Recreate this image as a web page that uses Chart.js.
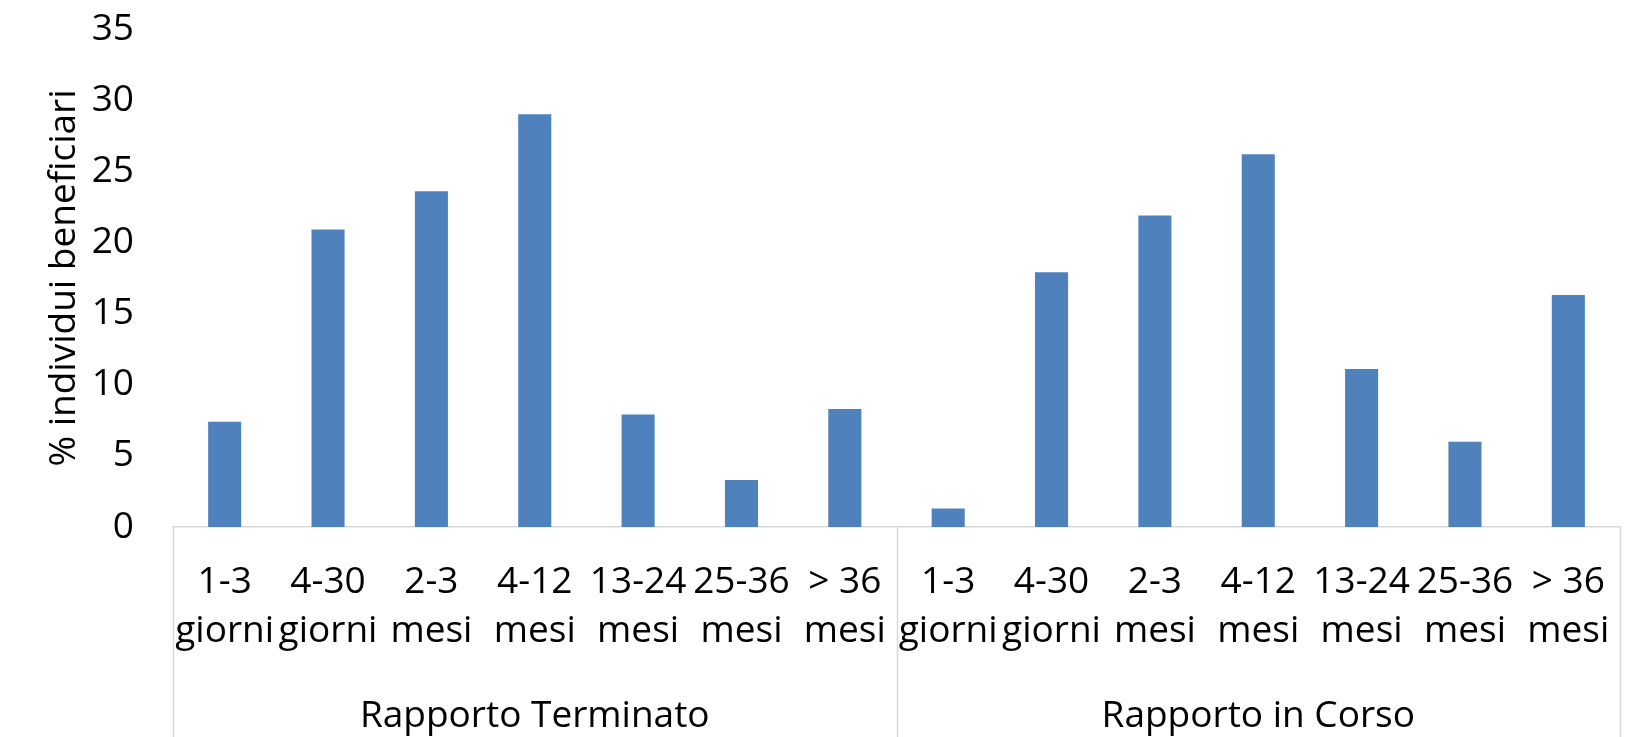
<!DOCTYPE html>
<html lang="it">
<head>
  <meta charset="UTF-8">
  <title>Durata rapporto</title>
  <script src="https://cdn.jsdelivr.net/npm/chart.js"></script>
  <style>
      html, body { margin: 0; padding: 0; background: #ffffff; }
      #wrap { width: 1631px; height: 737px; }
  </style>
</head>
<body>
  <div id="wrap"><canvas id="durataChart"></canvas></div>

  <script>
      // categorie (etichette su due righe)
      var durate = [
        ["1-3", "giorni"], ["4-30", "giorni"], ["2-3", "mesi"], ["4-12", "mesi"],
        ["13-24", "mesi"], ["25-36", "mesi"], ["> 36", "mesi"]
      ];
      var gruppi = ["Rapporto Terminato", "Rapporto in Corso"];

      // % individui beneficiari
      var terminato = [7.4, 20.9, 23.6, 29.0, 7.9, 3.3, 8.3];
      var inCorso   = [1.3, 17.9, 21.9, 26.2, 11.1, 6.0, 16.3];

      var yTicks = [0, 5, 10, 15, 20, 25, 30, 35];

      var labels = [...durate, ...durate];
      var values = [...terminato, ...inCorso];

      var fontFam = "'Open Sans', sans-serif";
      var lineCol = '#d9d9d9';

      // no extra padding from the axis labels, layout.padding decides
      function noPad(s) {
          s.paddingTop = 0; s.paddingBottom = 0;
          s.paddingLeft = 0; s.paddingRight = 0;
      }

      // linee verticali di separazione tra i gruppi
      Chart.register({
          id: 'groupSeparators',
          afterDraw: (chart) => {
              const { ctx, scales: { x } } = chart;
              ctx.save();
              ctx.strokeStyle = lineCol;
              ctx.lineWidth = 1.5;
              [0, durate.length, labels.length].forEach(i => {
                  const px = Math.round(x.getPixelForValue(i - 0.5)) + 0.5;
                  ctx.beginPath();
                  ctx.moveTo(px, chart.chartArea.bottom);
                  ctx.lineTo(px, chart.height);
                  ctx.stroke();
              });
              ctx.restore();
          }
      });

      new Chart(document.getElementById('durataChart'), {
          type: 'bar',
          data: {
              labels: labels,
              datasets: [{
                  data: values,
                  backgroundColor: '#4f81bd',
                  borderWidth: 0,
                  barPercentage: 0.32,
                  categoryPercentage: 1.0
              }]
          },
          options: {
              responsive: true,
              maintainAspectRatio: false,
              animation: false,
              layout: { padding: { top: 29, right: 11, left: 0, bottom: 0 } },
              plugins: { legend: { display: false }, tooltip: { enabled: false } },
              scales: {
                  x: {
                      position: 'bottom',
                      grid: { display: false, drawTicks: false },
                      border: { display: true, color: lineCol, width: 1.5 },
                      ticks: {
                          color: '#000000',
                          font: { family: fontFam, size: 37, lineHeight: 1.32 },
                          padding: 31,
                          autoSkip: false,
                          maxRotation: 0
                      },
                      afterFit: (s) => { s.height = 138; noPad(s); }
                  },
                  x2: {
                      type: 'category',
                      position: 'bottom',
                      labels: gruppi,
                      offset: true,
                      grid: { display: false, drawTicks: false },
                      border: { display: false },
                      ticks: {
                          color: '#000000',
                          font: { family: fontFam, size: 37, lineHeight: 1.32 },
                          padding: 27,
                          maxRotation: 0
                      },
                      afterFit: (s) => { s.height = 72; noPad(s); }
                  },
                  y: {
                      min: 0,
                      max: 35,
                      afterBuildTicks: (s) => { s.ticks = yTicks.map(v => ({ value: v })); },
                      grid: { display: false, drawTicks: false },
                      border: { display: false },
                      ticks: {
                          color: '#000000',
                          font: { family: fontFam, size: 37 },
                          padding: 39
                      },
                      title: {
                          display: true,
                          text: '% individui beneficiari',
                          color: '#000000',
                          font: { family: fontFam, size: 37, lineHeight: 1.2 },
                          padding: { top: 42, bottom: 0 }
                      },
                      afterFit: (s) => { s.width = 173; noPad(s); }
                  }
              }
          }
      });
  </script>
</body>
</html>
